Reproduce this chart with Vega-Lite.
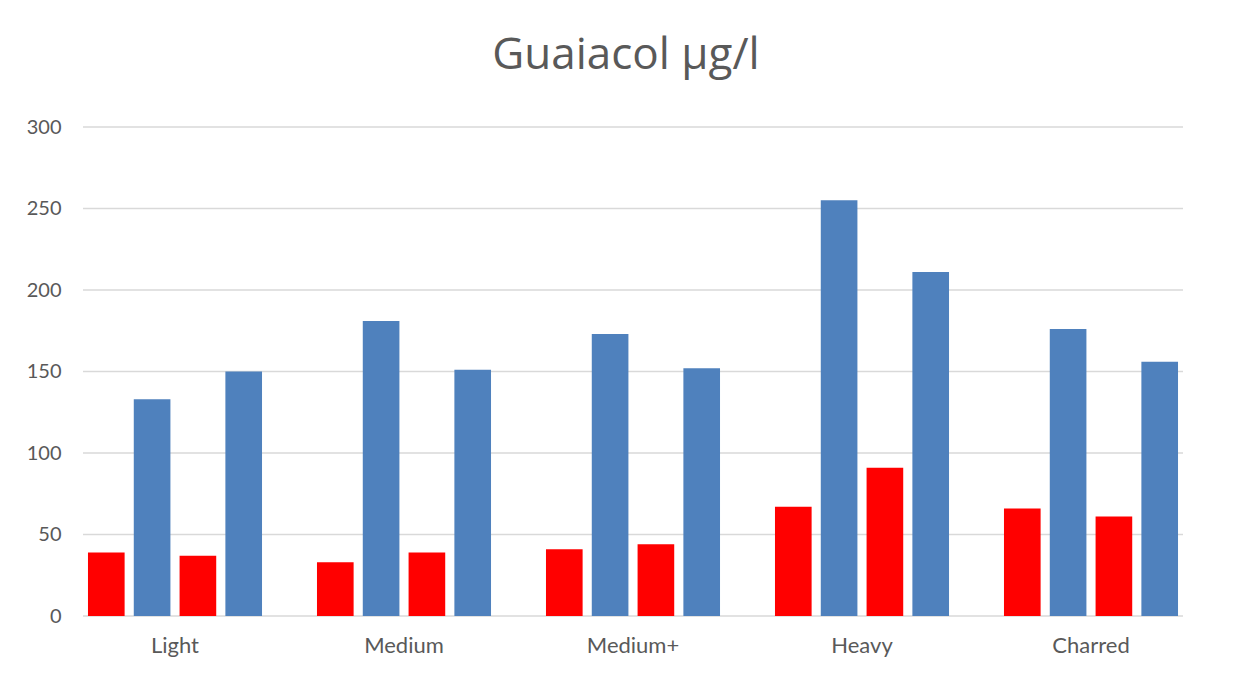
{
  "$schema": "https://vega.github.io/schema/vega-lite/v6.json",
  "autosize": {"type": "none"},
  "width": 1100,
  "height": 489,
  "padding": {"left": 83, "top": 127, "right": 64, "bottom": 59},
  "background": "#ffffff",
  "title": {
    "text": "Guaiacol µg/l",
    "font": "Open Sans",
    "fontSize": 44,
    "fontWeight": "normal",
    "color": "#595959",
    "anchor": "middle",
    "offset": 39,
    "dx": -7
  },
  "layer": [
    {
      "data": {"values": [{"v": 0}, {"v": 50}, {"v": 100}, {"v": 150}, {"v": 200}, {"v": 250}, {"v": 300}]},
      "mark": {"type": "rule", "color": "#D9D9D9", "strokeWidth": 1.5},
      "encoding": {
        "y": {
          "field": "v",
          "type": "quantitative",
          "scale": {"domain": [0, 300], "nice": false},
          "axis": {
            "title": null,
            "values": [0, 50, 100, 150, 200, 250, 300],
            "labelFont": "Lato",
            "labelFontSize": 20,
            "labelColor": "#595959",
            "labelPadding": 22,
            "ticks": false,
            "domain": false,
            "grid": false
          }
        }
      }
    },
    {
      "data": {
        "values": [
          {"category": "Light", "series": "s1", "value": 39},
          {"category": "Light", "series": "s2", "value": 133},
          {"category": "Light", "series": "s3", "value": 37},
          {"category": "Light", "series": "s4", "value": 150},
          {"category": "Medium", "series": "s1", "value": 33},
          {"category": "Medium", "series": "s2", "value": 181},
          {"category": "Medium", "series": "s3", "value": 39},
          {"category": "Medium", "series": "s4", "value": 151},
          {"category": "Medium+", "series": "s1", "value": 41},
          {"category": "Medium+", "series": "s2", "value": 173},
          {"category": "Medium+", "series": "s3", "value": 44},
          {"category": "Medium+", "series": "s4", "value": 152},
          {"category": "Heavy", "series": "s1", "value": 67},
          {"category": "Heavy", "series": "s2", "value": 255},
          {"category": "Heavy", "series": "s3", "value": 91},
          {"category": "Heavy", "series": "s4", "value": 211},
          {"category": "Charred", "series": "s1", "value": 66},
          {"category": "Charred", "series": "s2", "value": 176},
          {"category": "Charred", "series": "s3", "value": 61},
          {"category": "Charred", "series": "s4", "value": 156}
        ]
      },
      "mark": {"type": "bar"},
      "encoding": {
        "x": {
          "field": "category",
          "type": "nominal",
          "sort": null,
          "scale": {"range": [-22.5, 1122.5], "paddingInner": 0.24, "paddingOuter": 0.12},
          "axis": {
            "title": null,
            "labelAngle": 0,
            "labelFont": "Lato",
            "labelFontSize": 22,
            "labelColor": "#595959",
            "labelPadding": 19,
            "ticks": false,
            "domain": false,
            "grid": false
          }
        },
        "xOffset": {
          "field": "series",
          "type": "nominal",
          "scale": {"paddingInner": 0.2, "paddingOuter": 0}
        },
        "y": {
          "field": "value",
          "type": "quantitative",
          "scale": {"domain": [0, 300], "nice": false},
          "axis": {
            "title": null,
            "values": [0, 50, 100, 150, 200, 250, 300],
            "labelFont": "Lato",
            "labelFontSize": 20,
            "labelColor": "#595959",
            "labelPadding": 22,
            "ticks": false,
            "domain": false,
            "grid": false
          }
        },
        "color": {
          "field": "series",
          "type": "nominal",
          "scale": {"domain": ["s1", "s2", "s3", "s4"], "range": ["#FF0000", "#4F81BD", "#FF0000", "#4F81BD"]},
          "legend": null
        }
      }
    }
  ],
  "config": {
    "view": {"stroke": null}
  }
}
